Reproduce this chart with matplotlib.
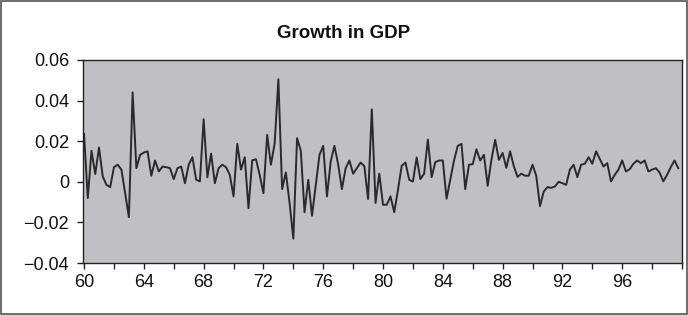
import matplotlib
matplotlib.use("Agg")
import matplotlib.pyplot as plt
from matplotlib.patches import Rectangle
from matplotlib.ticker import FixedLocator, FuncFormatter
import numpy as np

# quarterly growth in GDP, 1960Q1 .. 1999Q4
growth = [
    0.0236, -0.008, 0.0153, 0.0038, 0.0169, 0.0026, -0.0015, -0.0026,
    0.0072, 0.0084, 0.006, -0.0056, -0.0174, 0.044, 0.0067, 0.0133,
    0.0144, 0.015, 0.003, 0.0105, 0.0051, 0.0075, 0.0072, 0.0067,
    0.0013, 0.0067, 0.0075, -0.0007, 0.0084, 0.0121, 0.001, 0.0002,
    0.0308, 0.0022, 0.0139, -0.0007, 0.0067, 0.0084, 0.0072, 0.0034,
    -0.0072, 0.0187, 0.006, 0.0121, -0.013, 0.0106, 0.0111, 0.0034,
    -0.0056, 0.0231, 0.0084, 0.0188, 0.0505, -0.0036, 0.0046, -0.0105,
    -0.028, 0.0215, 0.0153, -0.015, 0.001, -0.0167, -0.0015, 0.0133,
    0.0177, -0.0072, 0.01, 0.0177, 0.0085, -0.0036, 0.0067, 0.0105,
    0.004, 0.0067, 0.0095, 0.0077, -0.0085, 0.0357, -0.0104, 0.004,
    -0.0113, -0.0113, -0.0072, -0.015, -0.004, 0.0079, 0.0095, 0.001,
    0.0001, 0.012, 0.0013, 0.004, 0.0208, 0.0023, 0.0097, 0.0105,
    0.0105, -0.0083, 0.001, 0.0105, 0.0177, 0.0187, -0.0036, 0.0084,
    0.0087, 0.016, 0.0105, 0.0133, -0.002, 0.0108, 0.0207, 0.0108,
    0.0142, 0.0069, 0.015, 0.0077, 0.0024, 0.004, 0.003, 0.003,
    0.0084, 0.003, -0.012, -0.0048, -0.0026, -0.003, -0.0023, 0.0,
    -0.0007, -0.0015, 0.006, 0.0084, 0.0023, 0.0084, 0.0089, 0.0121,
    0.0089, 0.015, 0.0112, 0.0075, 0.0092, 0.0002, 0.0034, 0.006,
    0.0105, 0.0051, 0.0062, 0.0089, 0.0105, 0.0092, 0.0105, 0.0051,
    0.006, 0.0067, 0.0046, 0.0002, 0.0034, 0.0072, 0.0105, 0.0067,
]
start_year = 60
year_labels = [60, 64, 68, 72, 76, 80, 84, 88, 92, 96]
minor_years = [62, 66, 70, 74, 78, 82, 86, 90, 94, 98, 100]
y_ticks = [-0.04, -0.02, 0, 0.02, 0.04, 0.06]

years = start_year + np.arange(len(growth)) / 4.0

plt.rcParams['font.family'] = ['Liberation Sans', 'DejaVu Sans']

fig = plt.figure(figsize=(6.88, 3.15), dpi=100)
ax = fig.add_axes([83 / 688, 1 - 263 / 315, 599 / 688, 203 / 315])
ax.set_facecolor('#c0c0c4')

ax.plot(years, growth, color='#2a2a2a', lw=1.4)

ax.set_xlim(59.93, 100.0)
ax.set_ylim(-0.04, 0.06)
ax.xaxis.set_major_locator(FixedLocator(year_labels))
ax.xaxis.set_minor_locator(FixedLocator(minor_years))
ax.yaxis.set_major_locator(FixedLocator(y_ticks))


def fmt_y(v, pos):
    if abs(v) < 1e-9:
        return '0'
    s = '%.2f' % abs(v)
    return ('\u2212' + s) if v < 0 else s


ax.yaxis.set_major_formatter(FuncFormatter(fmt_y))
ax.xaxis.set_major_formatter(FuncFormatter(lambda v, p: '%d' % v))

ax.tick_params(axis='both', which='both', direction='out', length=4,
               width=1, color='#222222', labelsize=13, labelcolor='#111111')
ax.tick_params(axis='x', pad=4)
ax.tick_params(axis='y', pad=6)
for sp in ax.spines.values():
    sp.set_color('#222222')
    sp.set_linewidth(1)

fig.text(0.5, 1 - 33 / 315, 'Growth in GDP', ha='center', va='center',
         fontsize=13.5, fontweight='bold', color='#111111')

# outer chart frame
fig.patches.append(Rectangle((0.001, 0.002), 0.997, 0.995, transform=fig.transFigure,
                             fill=False, edgecolor='#555555', lw=1.2))

fig.savefig('out.png', dpi=100)
